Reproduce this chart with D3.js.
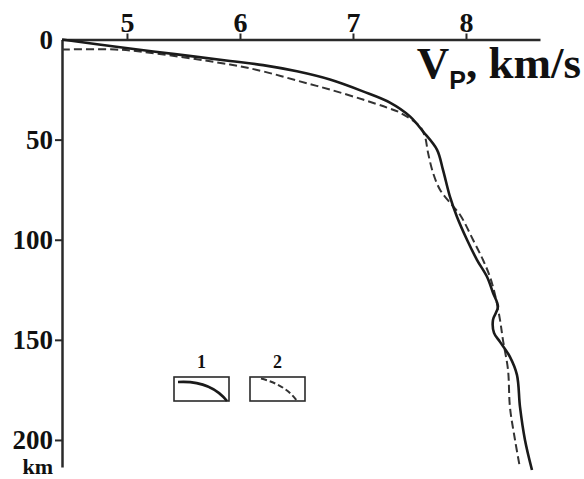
<!DOCTYPE html>
<html>
<head>
<meta charset="utf-8">
<script src="https://cdn.jsdelivr.net/npm/d3@7"></script>
<style>
  html, body { margin: 0; padding: 0; background: #fff; }
  svg { display: block; }
  text { font-family: "Liberation Serif", "Times New Roman", serif; font-weight: bold; fill: #111; }
</style>
</head>
<body>
<svg id="chart" width="584" height="479"></svg>
<script>
// ---- data (velocity km/s, depth km) ----
const xTicks = [5, 6, 7, 8];
const yTicks = [0, 50, 100, 150, 200];
const legendLabels = ["1", "2"];

const solidV = [4.425, 4.956, 5.425, 5.912, 6.204, 6.504, 6.796, 7.088, 7.327, 7.504, 7.619, 7.743, 7.796, 7.858, 7.920, 8.009, 8.097, 8.186, 8.239, 8.283, 8.239, 8.248, 8.301, 8.389, 8.451, 8.478, 8.522, 8.584];
const solidD = [0, 4, 7.3, 10.7, 12.8, 15.9, 20, 25.9, 31.5, 38.4, 45.9, 55, 65, 78.5, 88.5, 100, 110, 118.5, 126.5, 133.5, 140, 146.5, 151, 158.5, 167.5, 183.5, 200, 215];

const dashV = [4.425, 4.894, 5.115, 5.912, 6.204, 6.504, 6.796, 7.088, 7.301, 7.416, 7.593, 7.637, 7.664, 7.708, 7.770, 7.858, 7.947, 8.062, 8.150, 8.212, 8.257, 8.301, 8.327, 8.372, 8.389, 8.434, 8.478];
const dashD = [5, 5, 6, 12.5, 15.9, 20.5, 25, 30, 34, 36.5, 43.5, 48.5, 56.5, 66.5, 75, 81.5, 87.5, 100, 110, 118.5, 127.5, 140, 150, 165, 183.5, 200, 214];

// ---- layout ----
const svg = d3.select("#chart");
const x = d3.scaleLinear().domain([4.425, 8.655]).range([62, 540]);
const y = d3.scaleLinear().domain([0, 213.5]).range([39.5, 467]);
const ink = "#1a1a1a";

// top axis
const gx = svg.append("g").attr("transform", `translate(0,${y(0)})`)
  .call(d3.axisTop(x).tickValues(xTicks).tickFormat(d3.format("d"))
    .tickSize(6).tickSizeOuter(0).tickPadding(2));
gx.select(".domain").attr("stroke", "#2a2a2a").attr("stroke-width", 2.5);
gx.selectAll(".tick line").attr("stroke", "#2a2a2a").attr("stroke-width", 2);
gx.selectAll(".tick text").attr("font-size", 28).attr("font-family", "Liberation Serif, serif")
  .attr("font-weight", "bold").attr("fill", "#111");

// left axis
const gy = svg.append("g").attr("transform", `translate(${x(4.425)},0)`)
  .call(d3.axisLeft(y).tickValues(yTicks).tickFormat(d3.format("d"))
    .tickSize(7).tickSizeOuter(0).tickPadding(2));
gy.select(".domain").attr("stroke", "#2a2a2a").attr("stroke-width", 2.5);
gy.selectAll(".tick line").attr("stroke", "#2a2a2a").attr("stroke-width", 2)
  .attr("display", d => d === 0 ? "none" : null);
gy.selectAll(".tick text").attr("font-size", 27).attr("font-family", "Liberation Serif, serif")
  .attr("font-weight", "bold").attr("fill", "#111");

// "km" unit label
svg.append("text").attr("x", 53).attr("y", 474.2).attr("text-anchor", "end")
  .attr("font-size", 22).text("km");

// title V_P, km/s
const t = svg.append("text").attr("x", 581).attr("y", 78).attr("text-anchor", "end")
  .attr("font-size", 45);
t.append("tspan").text("V");
t.append("tspan").attr("font-family", "Liberation Sans, Arial, sans-serif").attr("font-size", 25)
  .attr("dy", 11).text("P");
t.append("tspan").attr("dy", -11).text(", km/s");

// curves
const line = d3.line().x(d => x(d[0])).y(d => y(d[1])).curve(d3.curveCatmullRom.alpha(0.5));
const solid = solidV.map((v, i) => [v, solidD[i]]);
const dashed = dashV.map((v, i) => [v, dashD[i]]);

svg.append("path").datum(dashed).attr("d", line).attr("fill", "none")
  .attr("stroke", "#333").attr("stroke-width", 2).attr("stroke-dasharray", "8,4");
svg.append("path").datum(solid).attr("d", line).attr("fill", "none")
  .attr("stroke", ink).attr("stroke-width", 2.6);

// legend
const legend = [
  { label: legendLabels[0], x0: 174, dash: null },
  { label: legendLabels[1], x0: 250, dash: "6,3" }
];
const lg = svg.append("g");
legend.forEach(item => {
  const g = lg.append("g").attr("transform", `translate(${item.x0},377)`);
  g.append("rect").attr("x", 0).attr("y", 0).attr("width", 55).attr("height", 24)
    .attr("fill", "none").attr("stroke", "#2a2a2a").attr("stroke-width", 1.6);
  g.append("text").attr("x", 27.5).attr("y", -9).attr("text-anchor", "middle")
    .attr("font-size", 18).text(item.label);
  const p = item.dash
    ? "M 11 1.5 Q 36 8 47 24"
    : "M 4 5 Q 36 3 53 24";
  g.append("path").attr("d", p).attr("fill", "none")
    .attr("stroke", item.dash ? "#333" : ink).attr("stroke-width", item.dash ? 2 : 2.6)
    .attr("stroke-dasharray", item.dash);
});
</script>
</body>
</html>
